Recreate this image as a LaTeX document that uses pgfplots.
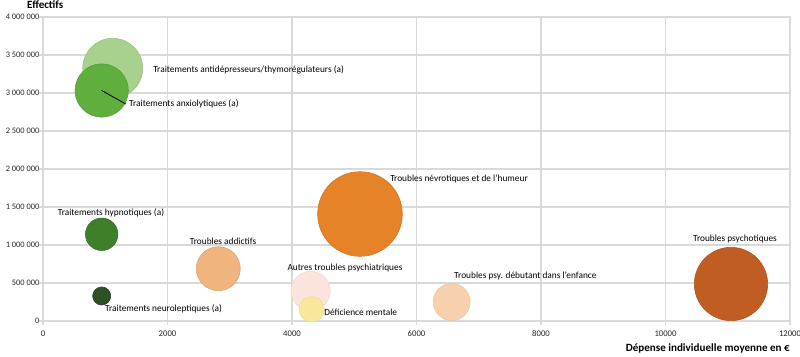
\documentclass[border=0pt]{standalone}
\usepackage{pgfplots}
\pgfplotsset{compat=1.18}
\usepackage{fontspec}
\setmainfont{Carlito}
\definecolor{gridc}{HTML}{D9D9D9}
\definecolor{cAntidep}{HTML}{A9D18E}
\definecolor{cAnxio}{HTML}{5FAE3E}
\definecolor{cHypno}{HTML}{3F7F2C}
\definecolor{cNeuro}{HTML}{2E5223}
\definecolor{cAddict}{HTML}{F0B47E}
\definecolor{cNevro}{HTML}{E68328}
\definecolor{cAutres}{HTML}{FCE4DC}
\definecolor{cDefic}{HTML}{F9E79C}
\definecolor{cEnfance}{HTML}{F7D0AE}
\definecolor{cPsycho}{HTML}{C05D22}
\newcommand{\lbl}{\fontsize{7.0}{8}\selectfont}
\begin{document}
\begin{tikzpicture}
\begin{axis}[
  name=ax,
  scale only axis,
  width=560.25pt, height=228pt,
  xmin=0, xmax=12000, ymin=0, ymax=4000000,
  xtick={0,2000,4000,6000,8000,10000,12000},
  xticklabels={0,2000,4000,6000,8000,10000,12000},
  ytick={0,500000,1000000,1500000,2000000,2500000,3000000,3500000,4000000},
  yticklabels={0,500 000,1 000 000,1 500 000,2 000 000,2 500 000,3 000 000,3 500 000,4 000 000},
  scaled x ticks=false, scaled y ticks=false,
  grid=major,
  grid style={draw=gridc, line width=1pt},
  axis line style={draw=gridc, line width=1pt},
  tick style={draw=gridc, line width=0.8pt},
  tick align=outside,
  major tick length=3pt,
  xtick pos=bottom, ytick pos=left,
  tick label style={font=\fontsize{6.5}{8}\selectfont, text=black!85},
  yticklabel style={inner sep=0pt, xshift=0.5pt, font=\fontsize{6.3}{8}\selectfont},
  xticklabel style={yshift=-1pt},
  /pgf/number format/assume math mode=true,
  clip=false,
  clip marker paths=true,
]
% bubbles: x = mean individual spending, y = headcount
\addplot[only marks, mark=*, mark size=22.5pt, mark options={fill=cAntidep, draw=cAntidep!90!black, line width=0.4pt}] coordinates {(1120,3325000)};
\addplot[only marks, mark=*, mark size=20pt, mark options={fill=cAnxio, draw=cAnxio!90!black, line width=0.4pt}] coordinates {(943,3033000)};
\addplot[only marks, mark=*, mark size=12.2pt, mark options={fill=cHypno, draw=cHypno!90!black, line width=0.4pt}] coordinates {(943,1141000)};
\addplot[only marks, mark=*, mark size=6.8pt, mark options={fill=cNeuro, draw=black!80, line width=0.4pt}] coordinates {(943,329000)};
\addplot[only marks, mark=*, mark size=16.5pt, mark options={fill=cAddict, draw=cAddict!90!black, line width=0.4pt}] coordinates {(2816,688000)};
\addplot[only marks, mark=*, mark size=31.75pt, mark options={fill=cNevro, draw=cNevro!90!black, line width=0.4pt}] coordinates {(5092,1408000)};
\addplot[only marks, mark=*, mark size=14.75pt, mark options={fill=cAutres, draw=cAutres!95!black, line width=0.4pt}] coordinates {(4300,395000)};
\addplot[only marks, mark=*, mark size=9.5pt, mark options={fill=cDefic, draw=cDefic!95!black, line width=0.4pt}] coordinates {(4316,154000)};
\addplot[only marks, mark=*, mark size=13.9pt, mark options={fill=cEnfance, draw=cEnfance!95!black, line width=0.4pt}] coordinates {(6565,250000)};
\addplot[only marks, mark=*, mark size=27.5pt, mark options={fill=cPsycho, draw=cPsycho!90!black, line width=0.4pt}] coordinates {(11052,487000)};
% leader line
\addplot[black, line width=0.6pt, no marks] coordinates {(943,3033000) (1330,2855000)};
% labels
\node[anchor=west, font=\lbl, inner sep=0pt] at (axis cs:1767,3303000) {Traitements antidépresseurs/thymorégulateurs (a)};
\node[anchor=west, font=\lbl, inner sep=0pt] at (axis cs:1380,2855000) {Traitements anxiolytiques (a)};
\node[anchor=center, font=\lbl, inner sep=0pt] at (axis cs:1092,1421000) {Traitements hypnotiques (a)};
\node[anchor=center, font=\lbl, inner sep=0pt] at (axis cs:2892,1053000) {Troubles addictifs};
\node[anchor=center, font=\lbl, inner sep=0pt] at (axis cs:1936,158000) {Traitements neuroleptiques (a)};
\node[anchor=west, font=\lbl, inner sep=0pt] at (axis cs:5574,1868000) {Troubles névrotiques et de l’humeur};
\node[anchor=center, font=\lbl, inner sep=0pt] at (axis cs:4851,697000) {Autres troubles psychiatriques};
\node[anchor=west, font=\lbl, inner sep=0pt] at (axis cs:4514,118000) {Déficience mentale};
\node[anchor=west, font=\lbl, inner sep=0pt] at (axis cs:6602,592000) {Troubles psy. débutant dans l’enfance};
\node[anchor=center, font=\lbl, inner sep=0pt] at (axis cs:11116,1079000) {Troubles psychotiques};
% axis titles
\node[anchor=center, font=\fontsize{8.3}{10}\selectfont\bfseries, inner sep=0pt] at (axis description cs:0.003,1.0395) {Effectifs};
\node[anchor=east, font=\fontsize{8.3}{10}\selectfont\bfseries, inner sep=0pt] at (axis description cs:1,-0.089) {Dépense individuelle moyenne en €};
\end{axis}
\pgfresetboundingbox
\path ([xshift=-32.25pt,yshift=-27pt]ax.south west) rectangle ([xshift=7.5pt,yshift=12.75pt]ax.north east);
\end{tikzpicture}
\end{document}
